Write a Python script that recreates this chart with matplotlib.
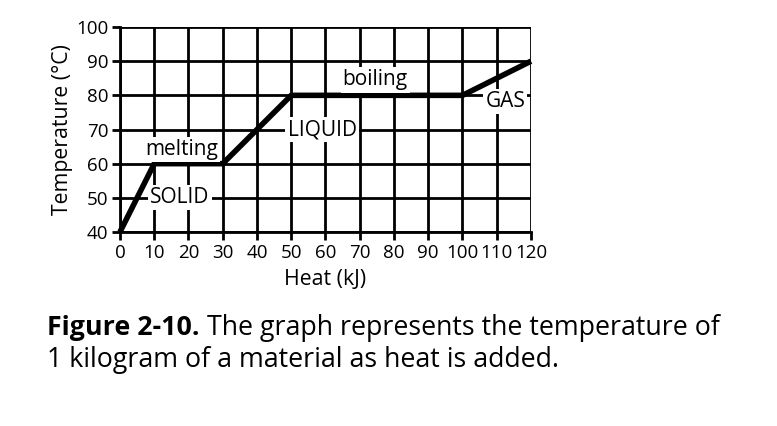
import matplotlib.pyplot as plt

# heating curve data
heat_kj = [0, 10, 30, 50, 100, 120]
temp_c = [40, 60, 60, 80, 80, 90]

x_ticks = list(range(0, 121, 10))
y_ticks = list(range(40, 101, 10))

# phase labels: text, x, y
labels = ["melting", "SOLID", "LIQUID", "boiling", "GAS"]
label_x = [18, 17.5, 59, 74.5, 112.5]
label_y = [64.2, 50, 70, 84.5, 78.2]

caption_bold = "Figure 2-10."
caption_rest = " The graph represents the temperature of"
caption_line2 = "1 kilogram of a material as heat is added."

plt.rcParams["font.family"] = ["Open Sans", "DejaVu Sans"]

fig = plt.figure(figsize=(7.77, 4.26), dpi=100)
ax = fig.add_axes([0.1544, 0.4554, 0.529, 0.4812])

ax.set_xlim(0, 120)
ax.set_ylim(40, 100)
ax.set_xticks(x_ticks)
ax.set_yticks(y_ticks)
ax.grid(True, color="black", linewidth=2)
ax.set_axisbelow(True)
for s in ax.spines.values():
    s.set_linewidth(2)
ax.spines["top"].set_visible(False)
ax.spines["right"].set_visible(False)
ax.tick_params(direction="out", length=6, width=2, labelsize=13.5, pad=2.5)

ax.plot(heat_kj, temp_c, color="black", linewidth=4, solid_capstyle="butt",
        solid_joinstyle="miter", zorder=3, clip_on=False)

for txt, x, y in zip(labels, label_x, label_y):
    ax.text(x, y, txt, ha="center", va="center", fontsize=15, zorder=4,
            bbox=dict(facecolor="white", edgecolor="none", pad=1.5))

ax.set_xlabel("Heat (kJ)", fontsize=15.3, labelpad=5)
ax.set_ylabel("Temperature (°C)", fontsize=15.3, labelpad=2)

# caption: bold lead-in followed by regular text
cap_size = 19.3
t1 = fig.text(47 / 777, 1 - 328 / 426, caption_bold, fontsize=cap_size,
              fontweight="bold", va="center")
fig.canvas.draw()
bb = t1.get_window_extent()
fig.text(bb.x1 / 777, 1 - 328 / 426, caption_rest, fontsize=cap_size, va="center")
fig.text(47 / 777, 1 - 360 / 426, caption_line2, fontsize=cap_size, va="center")

fig.savefig("out.png", dpi=100)
